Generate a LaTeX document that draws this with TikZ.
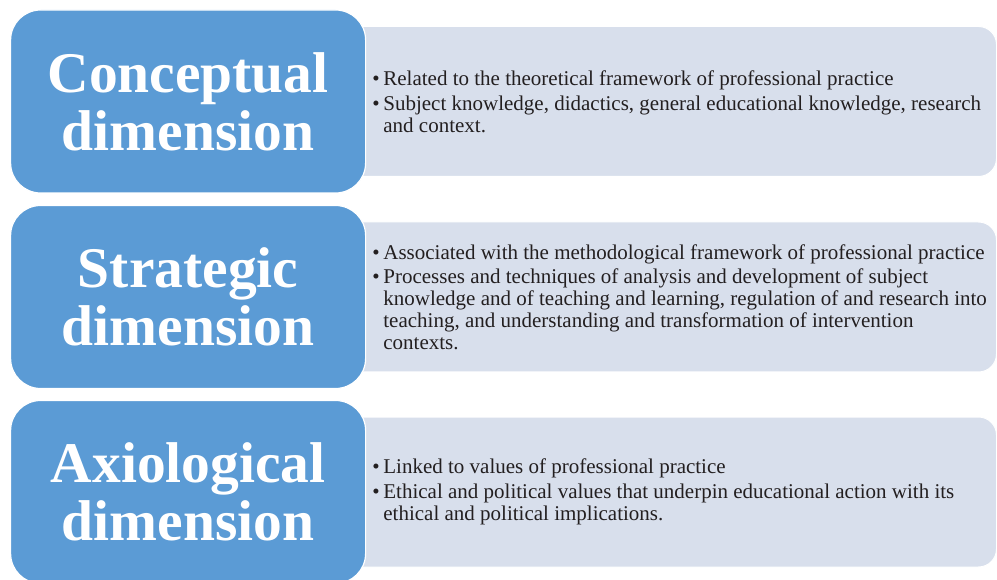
\documentclass[tikz,border=0pt]{standalone}
\usepackage{fontspec}
\setmainfont{Liberation Serif}
\usetikzlibrary{positioning}

\definecolor{dimblue}{RGB}{91,155,213}
\definecolor{boxgrey}{RGB}{216,223,236}
\definecolor{txtgrey}{RGB}{35,31,32}

% 箇条書きの記号とぶら下げインデント
\newcommand{\bul}{\makebox[11pt][l]{\textbullet}}
\newcommand{\ind}{\hspace*{11pt}}

\begin{document}
\begin{tikzpicture}[x=1pt,y=-1pt,
    dimbox/.style={draw=white, line width=1.2pt, fill=dimblue, rounded corners=30pt,
        minimum width=355pt, minimum height=183pt, text=white, align=center,
        font=\bfseries\fontsize{57.5}{58}\selectfont},
    infobox/.style={draw=white, line width=1pt, fill=boxgrey, rounded corners=18pt,
        minimum width=656pt, minimum height=150pt},
    infotext/.style={inner sep=0pt, align=left, text=txtgrey,
        font=\fontsize{21}{21.8}\selectfont}]

\useasboundingbox (0,0) rectangle (997,580);

% 3つの次元(左:見出し, 右:説明)
\foreach \i/\y/\title/\info in {
    1/101.5/{Conceptual\\dimension}/{\bul Related to the theoretical framework of professional practice\\[3pt]
        \bul Subject knowledge, didactics, general educational knowledge, research\\
        \ind and context.},
    2/297/{Strategic\\dimension}/{\bul Associated with the methodological framework of professional practice\\[3pt]
        \bul Processes and techniques of analysis and development of subject\\
        \ind knowledge and of teaching and learning, regulation of and research into\\
        \ind teaching, and understanding and transformation of intervention\\
        \ind contexts.},
    3/492/{Axiological\\dimension}/{\bul Linked to values of professional practice\\[3pt]
        \bul Ethical and political values that underpin educational action with its\\
        \ind ethical and political implications.}} {
    %右の箱を先に描く(左端は見出しの下に隠れる)
    \node[infobox, anchor=west] (bg\i) at (340,\y) {};
    \node[dimbox, anchor=west] (dim\i) at (10,\y) {\title};
    \node[infotext, right=6pt of dim\i.east] (txt\i) {\info};
}

\end{tikzpicture}
\end{document}
